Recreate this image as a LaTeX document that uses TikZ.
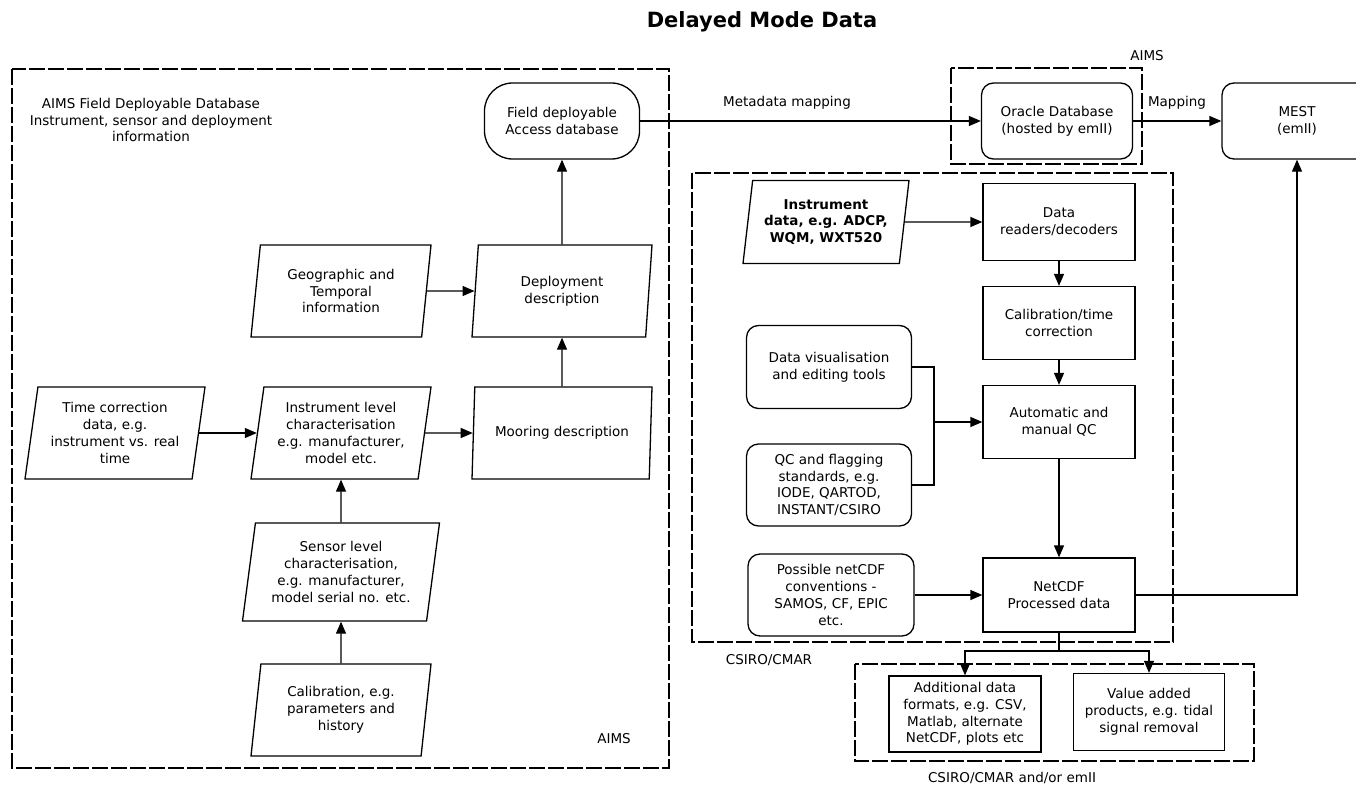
\documentclass[tikz,border=0pt]{standalone}
\usepackage{fontspec}
\setmainfont{DejaVu Sans}
\usetikzlibrary{arrows.meta, shapes.geometric, positioning, calc}

\begin{document}
\begin{tikzpicture}[x=1pt, y=-1pt, >={Triangle[length=12pt,width=10pt]},
    every node/.style={font=\fontsize{13.5}{16.8}\selectfont, align=center, inner sep=0pt},
    para/.style={draw, line width=1.3pt, trapezium, trapezium left angle=78, trapezium right angle=102,
      trapezium stretches body, minimum height=92pt, minimum width=180pt},
    procbox/.style={draw, line width=1.3pt, rectangle, minimum width=152pt, minimum height=75pt},
    rnd/.style={draw, line width=1.3pt, rectangle, rounded corners=12pt},
    groupbox/.style={draw, line width=1.3pt, dash pattern=on 16pt off 3pt},
    conn/.style={line width=1.3pt},
    arr/.style={conn, ->}]
    \useasboundingbox (0,0) rectangle (1356,789);

    \node[font=\fontsize{21}{24}\selectfont\bfseries] (title) at (762,22) {Delayed Mode Data};

    % AIMS field deployable part
    \draw[groupbox] (12,69) rectangle (669,768);
    \node (hdr) at (151,120) {AIMS Field Deployable Database\\Instrument, sensor and deployment\\information};
    \node (aimsl) at (614,739) {AIMS};

    \node[rnd, rounded corners=28pt, minimum width=155pt, minimum height=76pt] (fda) at (562,121) {Field deployable\\Access database};
    \node[para] (geo) at (341,291) {Geographic and\\Temporal\\information};
    \node[para] (dep) at (562,291) {Deployment\\description};
    \node[para] (tcd) at (115,433) {Time correction\\data, e.g.\\instrument vs. real\\time};
    \node[para] (ilc) at (341,433) {Instrument level\\characterisation\\e.g. manufacturer,\\model etc.};
    \node[para] (moor) at (562,433) {Mooring description};
    \node[para, minimum width=197pt, minimum height=98pt] (slc) at (341,572) {Sensor level\\characterisation,\\e.g. manufacturer,\\model serial no. etc.};
    \node[para] (cal) at (341,710) {Calibration, e.g.\\parameters and\\history};

    \draw[arr] (geo.east) -- (dep.west);
    \draw[arr] (dep.north) -- (fda.south);
    \draw[arr] (tcd.east) -- (ilc.west);
    \draw[arr] (ilc.east) -- (moor.west);
    \draw[arr] (moor.north) -- (dep.south);
    \draw[arr] (slc.north) -- (ilc.south);
    \draw[arr] (cal.north) -- (slc.south);

    % metadata
    \draw[groupbox] (951,68) rectangle (1142,164);
    \node (aimsr) at (1147,56) {AIMS};
    \node[rnd, minimum width=151pt, minimum height=76pt] (oracle) at (1057,121) {Oracle Database\\(hosted by emII)};
    \node[rnd, minimum width=150pt, minimum height=76pt] (mest) at (1297,121) {MEST\\(emII)};
    \draw[arr] (fda.east) -- (oracle.west);
    \node (mdmap) at (787,103) {Metadata mapping};
    \draw[arr] (oracle.east) -- (mest.west);
    \node (mapl) at (1177,103) {Mapping};

    % CSIRO processing
    \draw[groupbox] (692,173) rectangle (1173,642);
    \node (csirol) at (769,660) {CSIRO/CMAR};
    \node[para, minimum width=166pt, minimum height=83pt, font=\fontsize{13.5}{16.8}\selectfont\bfseries] (inst) at (826,222) {Instrument\\data, e.g. ADCP,\\WQM, WXT520};
    \node[procbox, minimum height=77pt] (readers) at (1059,222) {Data\\readers/decoders};
    \node[procbox, minimum height=73pt] (calib) at (1059,323) {Calibration/time\\correction};
    \node[procbox, minimum height=73pt] (autoqc) at (1059,422) {Automatic and\\manual QC};
    \node[rnd, minimum width=165pt, minimum height=83pt] (datavis) at (829,367) {Data visualisation\\and editing tools};
    \node[rnd, minimum width=165pt, minimum height=82pt] (qcflag) at (829,485) {QC and flagging\\standards, e.g.\\IODE, QARTOD,\\INSTANT/CSIRO};
    \node[rnd, minimum width=166pt, minimum height=82pt] (convs) at (831,595) {Possible netCDF\\conventions -\\SAMOS, CF, EPIC\\etc.};
    \node[procbox, minimum height=74pt] (netcdf) at (1059,595) {NetCDF\\Processed data};
    \coordinate (qcjoin) at (934,422);

    \draw[arr] (inst.east) -- (readers.west);
    \draw[arr] (readers.south) -- (calib.north);
    \draw[arr] (calib.south) -- (autoqc.north);
    \draw[conn] (datavis.east) -| (qcjoin);
    \draw[conn] (qcflag.east) -| (qcjoin);
    \draw[arr] (qcjoin) -- (autoqc.west);
    \draw[arr] (autoqc.south) -- (netcdf.north);
    \draw[arr] (convs.east) -- (netcdf.west);
    \draw[arr] (netcdf.east) -| (mest.south);

    % products
    \draw[groupbox] (855,664) rectangle (1254,761);
    \node (emiil) at (1012,778) {CSIRO/CMAR and/or emII};
    \node[procbox, minimum height=76pt] (addfmt) at (965,714) {Additional data\\formats, e.g. CSV,\\Matlab, alternate\\NetCDF, plots etc};
    \node[procbox, minimum width=151pt, minimum height=77pt] (valadd) at (1149,712) {Value added\\products, e.g. tidal\\signal removal};
    \coordinate (split) at (1059,651);
    \draw[conn] (netcdf.south) -- (split);
    \draw[arr] (split) -| (addfmt.north);
    \draw[arr] (split) -| (valadd.north);
\end{tikzpicture}
\end{document}
